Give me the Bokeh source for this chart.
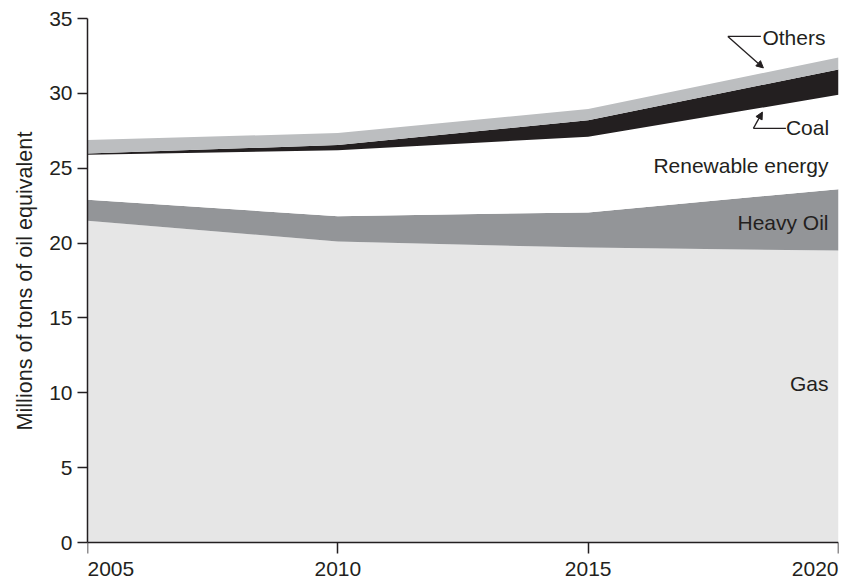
from bokeh.plotting import figure
from bokeh.models import Label, Arrow, NormalHead, Range1d, FixedTicker, ColumnDataSource, LinearAxis, Title
from bokeh.core.properties import value
from bokeh.embed import file_html
from bokeh.resources import INLINE

years = [2005, 2010, 2015, 2020]
gas = [21.5, 20.1, 19.7, 19.5]
heavy_oil = [1.4, 1.7, 2.35, 4.1]
renewable = [3.0, 4.4, 5.05, 6.3]
coal = [0.08, 0.35, 1.1, 1.7]
others = [0.9, 0.8, 0.75, 0.8]

series_names = ["Gas", "Heavy Oil", "Renewable energy", "Coal", "Others"]
series_colors = ["#e6e6e6", "#939598", "#ffffff", "#231f20", "#bcbec0"]
y_ticks = [0, 5, 10, 15, 20, 25, 30, 35]
x_tick_labels = ["2005", "2010", "2015", "2020"]
x_tick_align = ["left", "center", "center", "right"]
y_title = "Millions of tons of oil equivalent"

FONT = "Liberation Sans"
INK = "#231f20"

src = ColumnDataSource(dict(year=years, gas=gas, heavy=heavy_oil, ren=renewable,
                            coal=coal, others=others))

p = figure(width=842, height=581, output_backend="svg", toolbar_location=None,
           x_range=Range1d(2005, 2020), y_range=Range1d(-2.6, 35),
           x_axis_location=None,
           min_border_left=86, min_border_right=4, min_border_top=18, min_border_bottom=0)
p.outline_line_color = None
p.grid.visible = False
p.background_fill_color = "white"

p.varea_stack(stackers=["gas", "heavy", "ren", "coal", "others"], x="year",
              color=series_colors, source=src)

# y axis
ya = p.yaxis[0]
ya.ticker = FixedTicker(ticks=y_ticks)
ya.bounds = (0, 35)
ya.major_label_text_font = FONT
ya.major_label_text_font_size = "21px"
ya.major_label_text_color = INK
ya.major_label_standoff = 5
ya.major_tick_in = 0
ya.major_tick_out = 10
ya.minor_tick_line_color = None
ya.axis_line_color = INK
ya.axis_line_width = 1.5
ya.major_tick_line_color = INK
ya.major_tick_line_width = 1.5

# y axis title, centred on the 0..35 span rather than on the whole frame
p.add_layout(Title(text=y_title, align="left", offset=151, standoff=19,
                   text_font=FONT, text_font_size="21.6px", text_font_style="normal",
                   text_color=INK), "left")

# x axis at y = 0
xa = LinearAxis(fixed_location=0, ticker=FixedTicker(ticks=years))
xa.major_label_overrides = {y: "" for y in years}
xa.major_tick_in = 0
xa.major_tick_out = 11
xa.minor_tick_line_color = None
xa.axis_line_color = INK
xa.axis_line_width = 1.5
xa.major_tick_line_color = INK
xa.major_tick_line_width = 1.5
p.add_layout(xa, "below")

for yr, txt, al in zip(years, x_tick_labels, x_tick_align):
    p.text(x=[yr], y=[0], text=[txt], y_offset=19, text_align=al,
           text_baseline="top", text_font=value(FONT), text_font_size="21px",
           text_color=INK)

# series labels
def lab(x, y, txt, align, xo=0):
    p.add_layout(Label(x=x, y=y, x_offset=xo, text=txt, text_align=align,
                       text_baseline="middle", text_font=FONT,
                       text_font_size="21px", text_color=INK))

lab(2020, 25.2, "Renewable energy", "right", -10)
lab(2020, 21.4, "Heavy Oil", "right", -10)
lab(2020, 10.6, "Gas", "right", -10)
lab(2018.48, 33.7, "Others", "left")
lab(2018.95, 27.7, "Coal", "left")

# leader lines
seg = ColumnDataSource(dict(x0=[2017.79, 2018.30], y0=[33.8, 27.66],
                            x1=[2018.45, 2018.95], y1=[33.8, 27.66]))
p.segment(x0="x0", y0="y0", x1="x1", y1="y1", source=seg, line_color=INK, line_width=1.3)
p.add_layout(Arrow(end=NormalHead(size=7, fill_color=INK, line_color=INK),
                   x_start=2017.79, y_start=33.8, x_end=2018.50, y_end=31.7,
                   line_color=INK, line_width=1.3))
p.add_layout(Arrow(end=NormalHead(size=7, fill_color=INK, line_color=INK),
                   x_start=2018.30, y_start=27.66, x_end=2018.48, y_end=28.75,
                   line_color=INK, line_width=1.3))

open("out.html", "w").write(file_html(p, INLINE))
